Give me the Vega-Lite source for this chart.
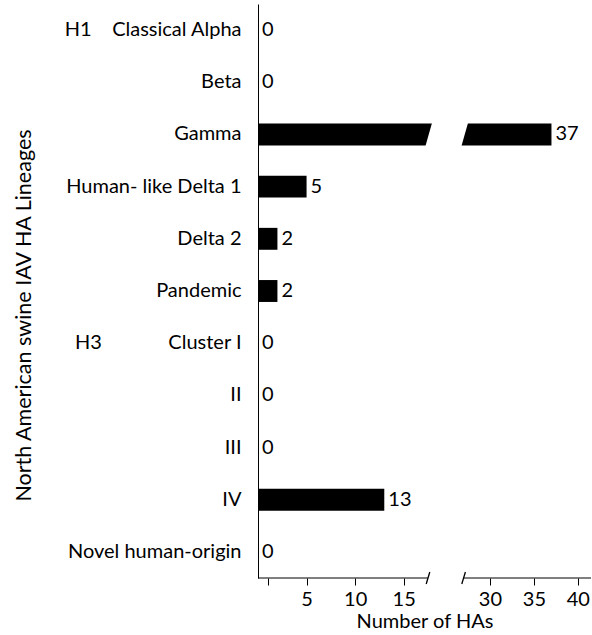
{
  "$schema": "https://vega.github.io/schema/vega-lite/v6.json",
  "width": 333,
  "height": 574,
  "autosize": {"type": "none"},
  "padding": {"left": 258, "top": 4, "right": 0, "bottom": 57},
  "config": {
    "font": "Lato",
    "view": {"stroke": null},
    "axis": {"labelColor": "black", "titleColor": "black", "grid": false, "titleFontWeight": "normal"}
  },
  "layer": [
    {
      "data": {"values": [
        {"lineage": "Classical Alpha", "n": 0},
        {"lineage": "Beta", "n": 0},
        {"lineage": "Gamma", "n": 37},
        {"lineage": "Human- like Delta 1", "n": 5},
        {"lineage": "Delta 2", "n": 2},
        {"lineage": "Pandemic", "n": 2},
        {"lineage": "Cluster I", "n": 0},
        {"lineage": "II", "n": 0},
        {"lineage": "III", "n": 0},
        {"lineage": "IV", "n": 13},
        {"lineage": "Novel human-origin", "n": 0}
      ]},
      "layer": [
        {
          "mark": {"type": "bar", "color": "black"},
          "encoding": {
            "x": {
              "field": "n", "type": "quantitative",
              "scale": {"domain": [0, 17.5, 27, 41.5], "range": [0, 170, 205.6, 333], "nice": false, "zero": false},
              "axis": {
                "values": [1, 5, 10, 15, 30, 35, 40],
                "labelExpr": "datum.value == 1 ? '' : datum.label",
                "domain": false, "tickColor": "black", "tickSize": 7,
                "labelFontSize": 20, "labelPadding": 4,
                "title": "Number of HAs", "titleFontSize": 20, "titlePadding": 2
              }
            },
            "y": {
              "field": "lineage", "type": "nominal", "sort": null,
              "scale": {
                "domain": ["Classical Alpha", "Beta", "Gamma", "Human- like Delta 1", "Delta 2", "Pandemic", "Cluster I", "II", "III", "IV", "Novel human-origin"],
                "paddingInner": 0.58, "paddingOuter": 0.29
              },
              "axis": {
                "ticks": false, "tickSize": 0, "labelPadding": 17, "labelFontSize": 20,
                "domainColor": "black",
                "labelExpr": "datum.value == 'Classical Alpha' ? 'H1\u00a0\u00a0\u00a0\u00a0Classical Alpha' : (datum.value == 'Cluster I' ? 'H3\u00a0\u00a0\u00a0\u00a0\u00a0\u00a0\u00a0\u00a0\u00a0\u00a0\u00a0\u00a0\u00a0Cluster I' : datum.label)",
                "title": "North American swine IAV HA Lineages", "titleFontSize": 21.5, "titlePadding": 28, "titleY": 311
              }
            }
          }
        },
        {
          "mark": {"type": "text", "align": "left", "baseline": "middle", "dx": 4, "fontSize": 20, "color": "black"},
          "encoding": {
            "x": {"field": "n", "type": "quantitative"},
            "y": {"field": "lineage", "type": "nominal", "sort": null},
            "text": {"field": "n", "type": "quantitative"}
          }
        }
      ]
    },
    {
      "data": {"values": [{"x": 22.5, "lineage": "Gamma"}]},
      "mark": {"type": "point", "shape": "M -0.917 -1 L 1.483 -1 L 0.917 1 L -1.483 1 Z", "size": 900, "filled": true, "fill": "white", "strokeWidth": 0, "opacity": 1},
      "encoding": {
        "x": {"field": "x", "type": "quantitative"},
        "y": {"field": "lineage", "type": "nominal", "sort": null}
      }
    },
    {
      "data": {"values": [{"a": 0, "b": 17.5}, {"a": 27, "b": 41.5}]},
      "mark": {"type": "rule", "color": "black", "strokeWidth": 1},
      "encoding": {
        "x": {"field": "a", "type": "quantitative"},
        "x2": {"field": "b"},
        "y": {"value": "height"}
      }
    },
    {
      "data": {"values": [{"x": 17.5}, {"x": 27}]},
      "mark": {"type": "point", "shape": "M -0.3 1 L 0.3 -1", "size": 144, "filled": false, "stroke": "black", "strokeWidth": 1.3, "opacity": 1},
      "encoding": {
        "x": {"field": "x", "type": "quantitative"},
        "y": {"value": "height"}
      }
    }
  ]
}
